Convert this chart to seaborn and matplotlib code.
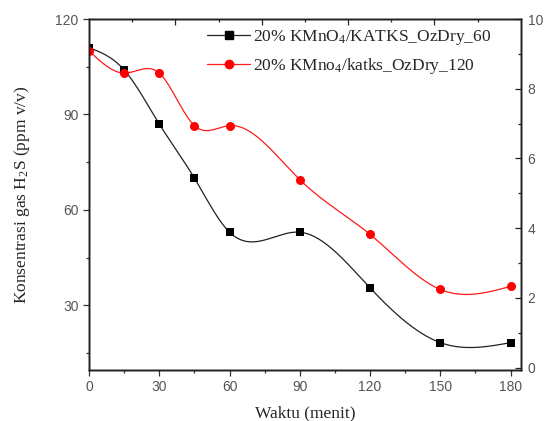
import numpy as np
import pandas as pd
import matplotlib
matplotlib.use("Agg")
import matplotlib.pyplot as plt
from matplotlib.lines import Line2D
from matplotlib.ticker import MultipleLocator, FixedLocator, NullFormatter
import seaborn as sns

# ---- data ----
waktu = [0, 15, 30, 45, 60, 90, 120, 150, 180]
kons_60 = [111, 104, 87, 70, 53, 53, 35.5, 18.3, 18.3]
kons_120 = [110, 103, 103, 86.5, 86.5, 69.5, 52.3, 35, 36]
label_60 = "20% KMnO$_4$/KATKS_OzDry_60"
label_120 = "20% KMno$_4$/katks_OzDry_120"
x_ticks = [0, 30, 60, 90, 120, 150, 180]
y_ticks = [30, 60, 90, 120]
y2_ticks = [0, 2, 4, 6, 8, 10]

sns.set_style("ticks")
plt.rcParams["font.family"] = ["Liberation Serif", "DejaVu Serif"]
plt.rcParams["mathtext.fontset"] = "custom"
plt.rcParams["mathtext.rm"] = "Liberation Serif"
plt.rcParams["mathtext.it"] = "Liberation Serif:italic"


def natural_spline(x, y, n=400):
    """Smooth connecting curve (natural cubic spline) through the data points."""
    x = np.asarray(x, float)
    y = np.asarray(y, float)
    k = len(x)
    h = np.diff(x)
    A = np.zeros((k, k))
    b = np.zeros(k)
    A[0, 0] = A[-1, -1] = 1
    for i in range(1, k - 1):
        A[i, i - 1] = h[i - 1]
        A[i, i] = 2 * (h[i - 1] + h[i])
        A[i, i + 1] = h[i]
        b[i] = 3 * ((y[i + 1] - y[i]) / h[i] - (y[i] - y[i - 1]) / h[i - 1])
    c = np.linalg.solve(A, b)
    xs = np.linspace(x[0], x[-1], n)
    idx = np.clip(np.searchsorted(x, xs, side="right") - 1, 0, k - 2)
    dx = xs - x[idx]
    bb = (y[idx + 1] - y[idx]) / h[idx] - h[idx] * (2 * c[idx] + c[idx + 1]) / 3
    dd = (c[idx + 1] - c[idx]) / (3 * h[idx])
    ys = y[idx] + bb * dx + c[idx] * dx ** 2 + dd * dx ** 3
    return xs, ys


fig = plt.figure(figsize=(5.46, 4.21), dpi=100)
ax = fig.add_axes([89 / 546, 1 - 370 / 421, (520.7 - 89) / 546, (370 - 19) / 421])

pts = pd.DataFrame({"waktu": waktu * 2,
                    "kons": kons_60 + kons_120,
                    "seri": [label_60] * len(waktu) + [label_120] * len(waktu)})

for vals, col in [(kons_60, "#222222"), (kons_120, "#ff1a1a")]:
    xs, ys = natural_spline(waktu, vals)
    sns.lineplot(x=xs, y=ys, ax=ax, color=col, lw=0.9, legend=False)

sns.scatterplot(data=pts[pts.seri == label_60], x="waktu", y="kons", ax=ax,
                marker="s", color="black", s=40, edgecolor="black", linewidth=0,
                legend=False, zorder=3)
sns.scatterplot(data=pts[pts.seri == label_120], x="waktu", y="kons", ax=ax,
                marker="o", color="#ff0000", s=42, edgecolor="#ff0000", linewidth=0,
                legend=False, zorder=4)

xmax = 184.3
ax.set_xlim(0, xmax)
ax.set_ylim(9.7, 120)
ax.xaxis.set_major_locator(FixedLocator(x_ticks))
ax.xaxis.set_minor_locator(MultipleLocator(15))
ax.yaxis.set_major_locator(FixedLocator(y_ticks))
ax.yaxis.set_minor_locator(MultipleLocator(15))
ax.tick_params(axis="both", which="major", direction="out", length=4, width=0.9,
               labelsize=10, labelfontfamily="Liberation Sans", colors="#333333",
               labelcolor="#555555")
ax.tick_params(axis="both", which="minor", direction="out", length=2, width=0.9,
               colors="#333333")
for s in ax.spines.values():
    s.set_linewidth(1.0)
    s.set_color("#222222")

ax.set_xlabel("Waktu (menit)", fontsize=12.5, labelpad=8)
ax.set_ylabel("Konsentrasi gas H$_2$S (ppm v/v)", fontsize=12.5, labelpad=17)

# top axis ticks (no labels)
axt = ax.twiny()
axt.set_xlim(0, xmax)
axt.xaxis.set_major_locator(FixedLocator([xmax / 10 * i for i in range(2, 10, 2)]))
axt.xaxis.set_minor_locator(FixedLocator([xmax / 10 * i for i in range(1, 10, 2)]))
axt.xaxis.set_major_formatter(NullFormatter())
axt.tick_params(axis="x", which="major", direction="in", length=4, width=0.9)
axt.tick_params(axis="x", which="minor", direction="in", length=2, width=0.9)

# right axis
ax2 = ax.twinx()
ax2.set_ylim(-0.07, 10)
ax2.yaxis.set_major_locator(FixedLocator(y2_ticks))
ax2.yaxis.set_minor_locator(MultipleLocator(1))
ax2.tick_params(axis="y", which="major", direction="in", length=4, width=0.9,
                labelsize=10, labelfontfamily="Liberation Sans", labelcolor="#555555",
                pad=5)
ax2.tick_params(axis="y", which="minor", direction="in", length=2, width=0.9)
for a in (axt, ax2):
    for s in a.spines.values():
        s.set_linewidth(1.0)
        s.set_color("#222222")

handles = [
    Line2D([], [], color="#222222", lw=0.9, marker="s", markersize=6.0,
           markerfacecolor="black", markeredgecolor="black"),
    Line2D([], [], color="#ff1a1a", lw=0.9, marker="o", markersize=6.0,
           markerfacecolor="#ff0000", markeredgecolor="#ff0000"),
]
fig.legend(handles, [label_60, label_120], loc="upper left",
           bbox_to_anchor=(207 / 546, 1 - 28 / 421), frameon=False, fontsize=12.5,
           handlelength=2.5, handletextpad=0.15, labelspacing=0.5, borderpad=0,
           borderaxespad=0)

fig.savefig("out.png", dpi=100)
